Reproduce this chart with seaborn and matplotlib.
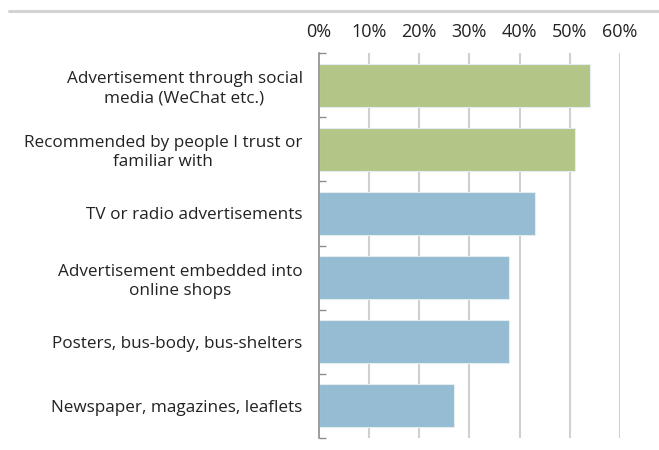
import matplotlib
matplotlib.use("Agg")
import matplotlib.pyplot as plt
from matplotlib.lines import Line2D
from matplotlib.ticker import FuncFormatter, FixedLocator
import seaborn as sns
import pandas as pd

categories = [
    "Advertisement through social\nmedia (WeChat etc.)",
    "Recommended by people I trust or\nfamiliar with",
    "TV or radio advertisements",
    "Advertisement embedded into\nonline shops",
    "Posters, bus-body, bus-shelters",
    "Newspaper, magazines, leaflets",
]
shares = [0.541, 0.511, 0.430, 0.380, 0.380, 0.270]
groups = ["social", "social", "media", "media", "media", "media"]
group_colors = {"social": "#B3C687", "media": "#95BCD3"}
x_ticks = [0, 0.1, 0.2, 0.3, 0.4, 0.5, 0.6]

df = pd.DataFrame({"channel": categories, "share": shares, "group": groups})

sns.set_theme(style="white")
plt.rcParams["font.family"] = ["Open Sans", "DejaVu Sans"]

fig = plt.figure(figsize=(6.59, 4.5), dpi=100)
ax = fig.add_axes([318.5 / 659, 1 - 438 / 450, (620 - 318.5) / 659, (438 - 53) / 450])

sns.barplot(data=df, y="channel", x="share", hue="group", palette=group_colors,
            orient="h", dodge=False, width=0.67, legend=False, ax=ax,
            saturation=1, edgecolor="#e3edf2", linewidth=0.8)

ax.set_xlim(0, 0.6)
ax.set_ylim(5.5, -0.5)
ax.xaxis.tick_top()
ax.set_xticks(x_ticks)
ax.xaxis.set_major_formatter(FuncFormatter(lambda v, _: f"{v * 100:.0f}%"))
ax.tick_params(axis="x", length=0, pad=8.5, labelsize=13, colors="#222222")
ax.tick_params(axis="y", which="major", length=0, pad=11.5, labelsize=12.3, colors="#222222")
for lbl in ax.get_yticklabels():
    lbl.set_multialignment("center")
    lbl.set_linespacing(1.25)

# small inward ticks on the category boundaries
ax.yaxis.set_minor_locator(FixedLocator([i - 0.5 for i in range(len(categories) + 1)]))
ax.tick_params(axis="y", which="minor", direction="in", length=5, width=1,
               color="#8c8c8c", left=True)

ax.set_xlabel("")
ax.set_ylabel("")
for v in x_ticks[1:]:
    ax.axvline(v, color="#d0d0d0", linewidth=1.5, zorder=0)
for s in ["top", "right", "bottom"]:
    ax.spines[s].set_visible(False)
ax.spines["left"].set_color("#8c8c8c")
ax.spines["left"].set_linewidth(1.2)
ax.set_axisbelow(True)

fig.add_artist(Line2D([9 / 659, 1], [1 - 11 / 450, 1 - 11 / 450],
                      color="#d3d3d3", linewidth=2.2, transform=fig.transFigure))

fig.savefig("out.png", dpi=100, facecolor="white")
